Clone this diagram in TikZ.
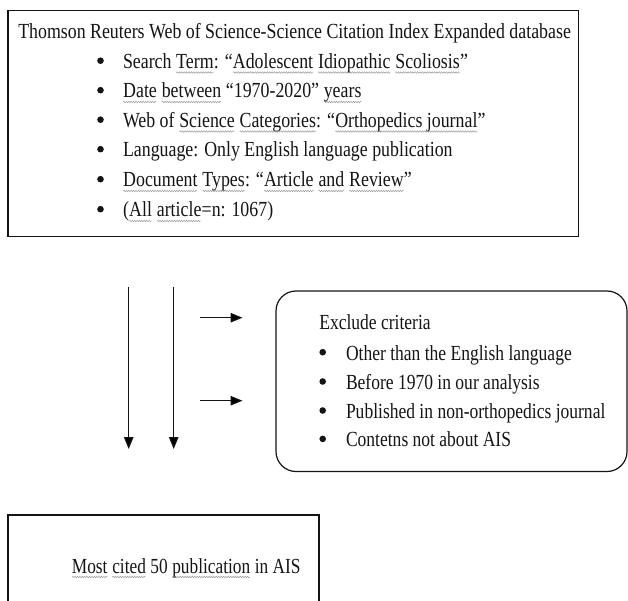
\documentclass[tikz,border=0pt]{standalone}
\usepackage{fontspec}
\setmainfont{Liberation Serif}[FakeStretch=0.83]
\newfontfamily\exfont{Liberation Serif}[FakeStretch=0.815]
\newfontfamily\resfont{Liberation Serif}[FakeStretch=0.805]
\usetikzlibrary{arrows.meta,decorations.pathmorphing}
\definecolor{sqc}{RGB}{150,150,158}
\definecolor{ink}{RGB}{20,20,20}
\newcommand\myfs{\fontsize{21.5}{26}\selectfont}
\newcommand\sq[1]{\tikz[baseline=(w.base)]{\node[inner sep=0pt,outer sep=0pt,anchor=base](w){#1};\draw[sqc,line width=0.45pt,decorate,decoration={snake,amplitude=0.8pt,segment length=2.4pt}]([yshift=-4pt]w.base west)--([yshift=-4pt]w.base east);}}
\tikzset{
  txt/.style={inner sep=0pt,outer sep=0pt,anchor=base west,font=\myfs,text=ink},
  extxt/.style={txt,font=\myfs\exfont},
  restxt/.style={txt,font=\myfs\resfont},
  bul/.style={circle,fill=ink,inner sep=0pt,outer sep=0pt,minimum size=6.6pt,yshift=7.8pt},
  box/.style={draw=ink,line width=1.6pt,inner sep=0pt,outer sep=0pt},
  rbox/.style={draw=ink,line width=1.2pt,rounded corners=20pt,inner sep=0pt,outer sep=0pt},
  arr/.style={draw=ink,line width=1.2pt,-{Triangle[length=12pt,width=9.5pt]}}
}
\begin{document}
\begin{tikzpicture}[x=1pt,y=-1pt]
\useasboundingbox (0,0) rectangle (628,601);
\clip (0,0) rectangle (628,601);
% top box
\node[box,anchor=north west,minimum width=570.5pt,minimum height=226pt] (src) at (8,10.5) {};
\node[txt] (title) at (18.3,39) {Thomson Reuters Web of Science-Science Citation Index Expanded database};
\node[bul] (b1) at (100.5,68.5) {};
\node[bul] (b2) at (100.5,98) {};
\node[bul] (b3) at (100.5,127.5) {};
\node[bul] (b4) at (100.5,157) {};
\node[bul] (b5) at (100.5,187) {};
\node[bul] (b6) at (100.5,217) {};
\node[txt] (t1) at (123,68.5) {Search \sq{Term}: “\sq{Adolescent} \sq{Idiopathic} \sq{Scoliosis}”};
\node[txt] (t2) at (123,98) {\sq{Date} \sq{between} “1970-2020” \sq{years}};
\node[txt] (t3) at (123,127.5) {Web of \sq{Science} \sq{Categories}: “\sq{Orthopedics journal}”};
\node[txt] (t4) at (123,157) {Language: Only English language publication};
\node[txt] (t5) at (123,187) {\sq{Document} \sq{Types}: “\sq{Article} \sq{and} \sq{Review}”};
\node[txt] (t6) at (123,217) {(\sq{All} \sq{article}=n: 1067)};
% arrows
\coordinate (v1s) at (128.7,286.7);
\coordinate (v1e) at (128.7,449);
\coordinate (v2s) at (173.7,286.7);
\coordinate (v2e) at (173.7,449);
\coordinate (h1s) at (200,317.7);
\coordinate (h1e) at (242.5,317.7);
\coordinate (h2s) at (200,400.7);
\coordinate (h2e) at (242.5,400.7);
\draw[arr] (v1s) -- (v1e);
\draw[arr] (v2s) -- (v2e);
\draw[arr] (h1s) -- (h1e);
\draw[arr] (h2s) -- (h2e);
% exclusion box
\node[rbox,anchor=north west,minimum width=351pt,minimum height=180.5pt] (excl) at (276,291) {};
\node[extxt] (ex) at (319.3,329.3) {Exclude criteria};
\node[bul] (e1) at (322.7,360) {};
\node[bul] (e2) at (322.7,389.3) {};
\node[bul] (e3) at (322.7,418.3) {};
\node[bul] (e4) at (322.7,446.7) {};
\node[extxt] (x1) at (346,360) {Other than the English language};
\node[extxt] (x2) at (346,389.3) {Before 1970 in our analysis};
\node[extxt] (x3) at (346,418.3) {Published in non-orthopedics journal};
\node[extxt] (x4) at (346,446.7) {Contetns not about AIS};
% result box
\node[box,anchor=north west,minimum width=311pt,minimum height=120pt] (res) at (8,515) {};
\node[restxt] (rt) at (71.7,573) {\sq{Most} \sq{cited} 50 \sq{publication} in AIS};
\end{tikzpicture}
\end{document}
